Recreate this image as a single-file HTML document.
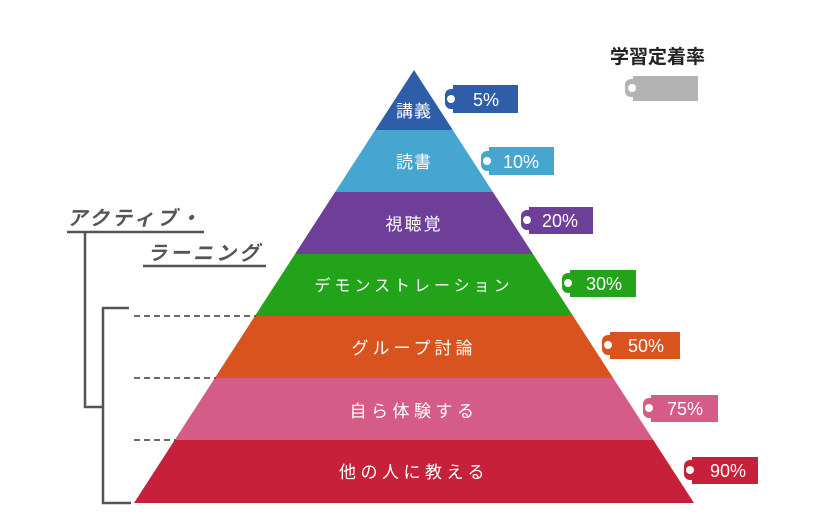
<!DOCTYPE html>
<html><head><meta charset="utf-8"><style>
body{margin:0;background:#fff;width:828px;height:525px;overflow:hidden}
svg text{font-family:"Liberation Sans","Noto Sans CJK JP",sans-serif}
</style></head><body>
<svg width="828" height="525" viewBox="0 0 828 525">
<defs>
<clipPath id="p"><polygon points="414,70 134,503 694,503"/></clipPath>
</defs>
<g clip-path="url(#p)">
<rect x="0" y="60" width="828" height="70" fill="#2e5ea8"/>
<rect x="0" y="130" width="828" height="62" fill="#47a6cf"/>
<rect x="0" y="192" width="828" height="62" fill="#6e3f98"/>
<rect x="0" y="254" width="828" height="62" fill="#23a31a"/>
<rect x="0" y="316" width="828" height="62" fill="#d9531e"/>
<rect x="0" y="378" width="828" height="62" fill="#d45c86"/>
<rect x="0" y="440" width="828" height="63" fill="#c6203a"/>
</g>
<g fill="#fff" font-size="17" text-anchor="middle" letter-spacing="1">
<text x="414" y="117">講義</text>
<text x="414" y="168">読書</text>
<text x="414" y="230" letter-spacing="2">視聴覚</text>
<text x="414" y="291" font-size="16" letter-spacing="4">デモンストレーション</text>
<text x="414" y="354" letter-spacing="4">グループ討論</text>
<text x="414" y="417" letter-spacing="4.5">自ら体験する</text>
<text x="414" y="478" letter-spacing="4.5">他の人に教える</text>
</g>
<g font-size="18" fill="#fff">
<g fill="#2e5ea8"><rect x="445" y="89" width="14" height="20" rx="6"/><rect x="453" y="85" width="65" height="28"/></g><circle cx="451" cy="99" r="4" fill="#fff"/><text x="473" y="106">5%</text>
<g fill="#47a6cf"><rect x="481" y="151" width="14" height="20" rx="6"/><rect x="489" y="147" width="65" height="28"/></g><circle cx="487" cy="161" r="4" fill="#fff"/><text x="503" y="168">10%</text>
<g fill="#6e3f98"><rect x="521" y="210" width="14" height="20" rx="6"/><rect x="529" y="207" width="64" height="27"/></g><circle cx="527" cy="220" r="4" fill="#fff"/><text x="542" y="227">20%</text>
<g fill="#23a31a"><rect x="562" y="273" width="14" height="20" rx="6"/><rect x="570" y="270" width="66" height="27"/></g><circle cx="568" cy="283" r="4" fill="#fff"/><text x="586" y="290">30%</text>
<g fill="#d9531e"><rect x="602" y="335" width="14" height="20" rx="6"/><rect x="610" y="332" width="70" height="27"/></g><circle cx="608" cy="345" r="4" fill="#fff"/><text x="628" y="352">50%</text>
<g fill="#d45c86"><rect x="643" y="398" width="14" height="20" rx="6"/><rect x="651" y="395" width="67" height="27"/></g><circle cx="649" cy="408" r="4" fill="#fff"/><text x="667" y="415">75%</text>
<g fill="#c6203a"><rect x="684" y="460" width="14" height="20" rx="6"/><rect x="692" y="457" width="66" height="27"/></g><circle cx="690" cy="470" r="4" fill="#fff"/><text x="710" y="477">90%</text>
<g fill="#b3b3b3"><rect x="625" y="79" width="14" height="18" rx="6"/><rect x="633" y="76" width="65" height="25"/></g><circle cx="632" cy="88" r="4" fill="#fff"/>
</g>
<text x="610" y="63" font-size="19" font-weight="bold" fill="#222">学習定着率</text>
<g fill="#555" font-size="20" font-weight="bold" font-style="italic">
<text x="67" y="225" letter-spacing="3">アクティブ・</text>
<text x="147" y="260" letter-spacing="3">ラーニング</text>
</g>
<g stroke="#555" stroke-width="2.5" fill="none">
<line x1="67" y1="232" x2="204" y2="232"/>
<line x1="143" y1="266" x2="266" y2="266"/>
<polyline points="85,232 85,407 103,407"/>
<polyline points="129,308 103,308 103,503 131,503"/>
</g>
<g stroke="#555" stroke-width="1.8" stroke-dasharray="6,4">
<line x1="134" y1="316" x2="256" y2="316"/>
<line x1="134" y1="378" x2="216" y2="378"/>
<line x1="134" y1="440" x2="176" y2="440"/>
</g>
</svg>
</body></html>
